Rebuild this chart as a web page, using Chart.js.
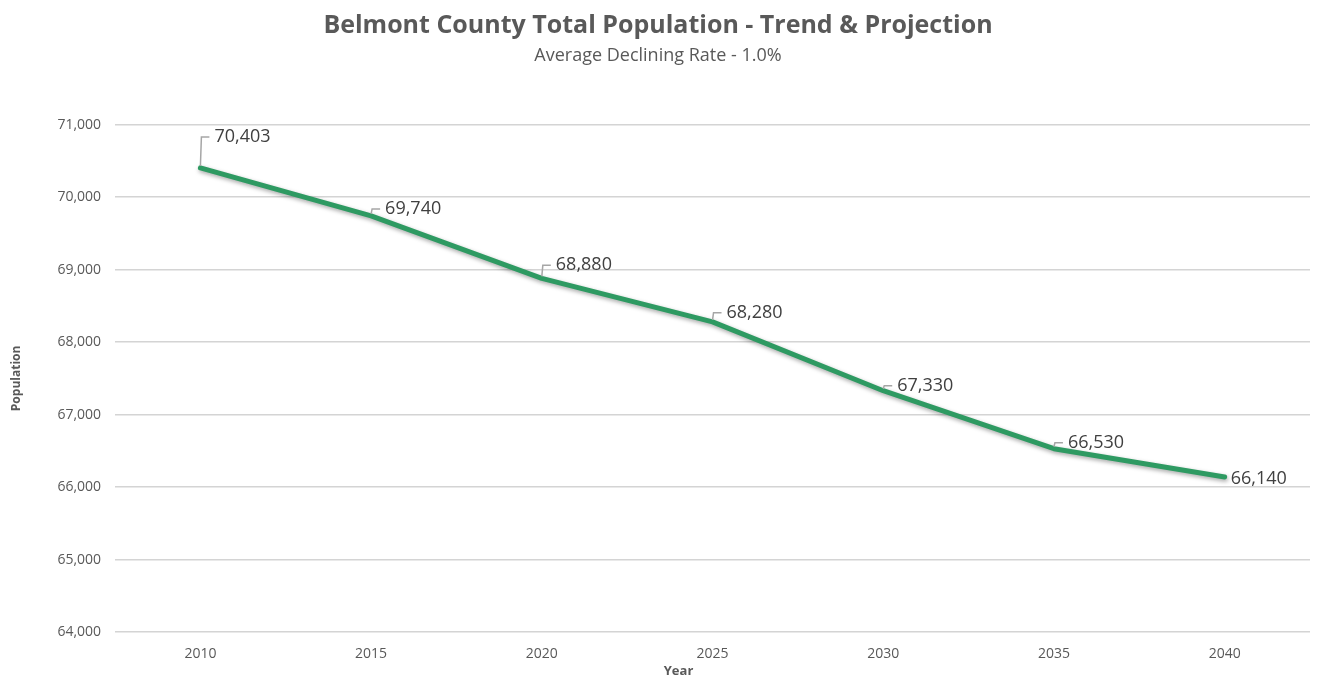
<!DOCTYPE html>
<html>
<head>
<meta charset="utf-8">
<script src="https://cdn.jsdelivr.net/npm/chart.js@4.4.1/dist/chart.umd.min.js"></script>
<style>
  html, body { margin: 0; padding: 0; background: #ffffff; }
  #wrap { width: 1321px; height: 675px; }
</style>
</head>
<body>
<div id="wrap"><canvas id="popChart" width="1321" height="675"></canvas></div>
<script>
// Data block
const years = ['2010', '2015', '2020', '2025', '2030', '2035', '2040'];
const population = [70403, 69740, 68880, 68280, 67330, 66530, 66140];
const yTicksMin = 64000;
const yTicksMax = 71000;
const yTickStep = 1000;

// Label leader offsets (style only): how far above the point the label sits
const leaderRise = [31, 7, 13, 9, 5, 6, 0];

const fontFamily = "'Open Sans', 'Noto Sans', sans-serif";

// Shadow under the line
const lineShadow = {
    id: 'lineShadow',
    beforeDatasetDraw(chart) {
        const ctx = chart.ctx;
        ctx.save();
        ctx.shadowColor = 'rgba(0,0,0,0.35)';
        ctx.shadowBlur = 4;
        ctx.shadowOffsetX = 1;
        ctx.shadowOffsetY = 2;
    },
    afterDatasetDraw(chart) {
        chart.ctx.restore();
    }
};

// Data labels with small leader lines
const leaderLabels = {
    id: 'leaderLabels',
    afterDatasetsDraw(chart) {
        const ctx = chart.ctx;
        const meta = chart.getDatasetMeta(0);
        ctx.save();
        ctx.font = '18px ' + fontFamily;
        ctx.textBaseline = 'middle';
        ctx.textAlign = 'left';
        meta.data.forEach((pt, i) => {
            const txt = population[i].toLocaleString('en-US');
            const rise = leaderRise[i];
            const ty = pt.y - rise;
            if (rise > 0) {
                ctx.strokeStyle = '#a6a6a6';
                ctx.lineWidth = 1.5;
                ctx.beginPath();
                ctx.moveTo(pt.x, pt.y - 2);
                ctx.lineTo(pt.x + 1, ty);
                ctx.lineTo(pt.x + 9, ty);
                ctx.stroke();
                ctx.fillStyle = '#404040';
                ctx.fillText(txt, pt.x + 14, ty);
            } else {
                ctx.fillStyle = '#404040';
                ctx.fillText(txt, pt.x + 6, pt.y + 2);
            }
        });

        // "Year" axis title sits a little left of centre, like the original
        const xs = chart.scales.x;
        ctx.font = 'bold 13px ' + fontFamily;
        ctx.fillStyle = '#595959';
        ctx.textAlign = 'center';
        ctx.fillText('Year', (xs.left + xs.right) / 2 - 34, xs.bottom - 6);
        ctx.restore();
    }
};

const popConfig = {
    type: 'line',
    data: {
        labels: years,
        datasets: [{
            label: 'Population',
            data: population,
            borderColor: '#2e9a62',
            borderWidth: 5,
            pointRadius: 0,
            tension: 0,
            borderCapStyle: 'round',
            borderJoinStyle: 'round',
            fill: false
        }]
    },
    options: {
        responsive: false,
        animation: false,
        layout: { padding: { top: 11, right: 11, bottom: -2, left: 6 } },
        plugins: {
            legend: { display: false },
            tooltip: { enabled: false },
            title: {
                display: true,
                text: 'Belmont County Total Population - Trend & Projection',
                color: '#595959',
                font: { family: fontFamily, size: 25, weight: 'bold' },
                padding: { top: 0, bottom: 2 }
            },
            subtitle: {
                display: true,
                text: 'Average Declining Rate - 1.0%',
                color: '#595959',
                font: { family: fontFamily, size: 18 },
                padding: { top: 2, bottom: 58 }
            }
        },
        scales: {
            x: {
                offset: true,
                grid: { display: false, drawTicks: false },
                border: { display: false },
                ticks: {
                    color: '#595959',
                    font: { family: fontFamily, size: 14 },
                    padding: 13
                },
                title: {
                    // keeps the space; the text itself is drawn by the plugin
                    display: true,
                    text: 'Year',
                    color: 'rgba(0,0,0,0)',
                    font: { family: fontFamily, size: 13, weight: 'bold', lineHeight: 1 },
                    padding: { top: -11, bottom: 0 }
                }
            },
            y: {
                min: yTicksMin,
                max: yTicksMax,
                grid: { color: '#d4d4d4', lineWidth: 1.5, drawTicks: false },
                border: { display: false },
                ticks: {
                    stepSize: yTickStep,
                    color: '#595959',
                    font: { family: fontFamily, size: 14 },
                    padding: 14,
                    callback: v => v.toLocaleString('en-US')
                },
                title: {
                    display: true,
                    text: 'Population',
                    color: '#595959',
                    font: { family: fontFamily, size: 12, weight: 'bold' },
                    padding: { top: 3, bottom: 20 }
                }
            }
        }
    },
    plugins: [lineShadow, leaderLabels]
};

const popChart = new Chart(document.getElementById('popChart'), popConfig);
</script>
</body>
</html>
